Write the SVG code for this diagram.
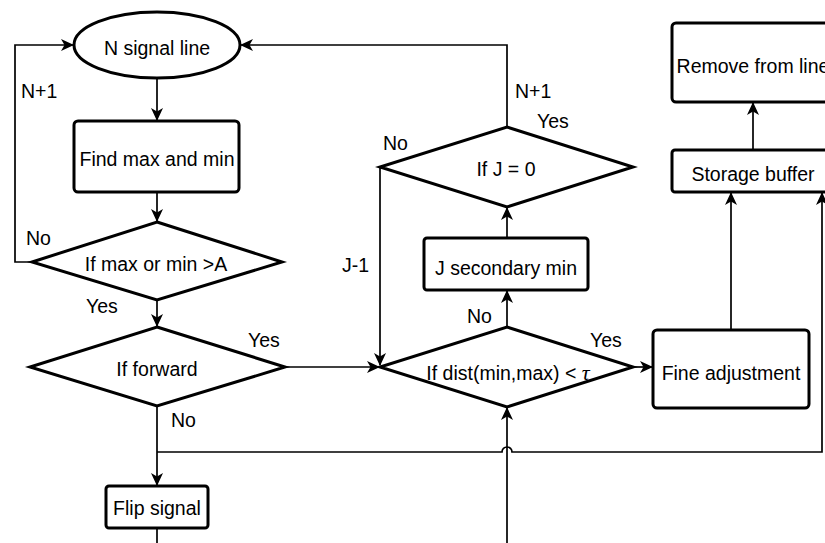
<svg xmlns="http://www.w3.org/2000/svg" width="825" height="543" viewBox="0 0 825 543">
<style>
.shape{fill:#fff;stroke:#000;stroke-width:3}
.conn{fill:none;stroke:#000;stroke-width:1.7}
text{font-family:"Liberation Sans",Arial,sans-serif;font-size:19.5px;fill:#000}
.c{text-anchor:middle}
</style>
<defs>
<marker id="arr" viewBox="0 0 13 12" refX="12" refY="6" markerWidth="13" markerHeight="12" markerUnits="userSpaceOnUse" orient="auto">
<path d="M0,0 L13,6 L0,12 L3.5,6 Z" fill="#000"/>
</marker>
</defs>
<rect width="825" height="543" fill="#fff"/>
<g id="connectors">
<path class="conn" d="M157,78 V120" marker-end="url(#arr)"/>
<path class="conn" d="M157,192 V221" marker-end="url(#arr)"/>
<path class="conn" d="M32,262 H15 V45 H73" marker-end="url(#arr)"/>
<path class="conn" d="M157,300 V326" marker-end="url(#arr)"/>
<path class="conn" d="M285,367 H379" marker-end="url(#arr)"/>
<path class="conn" d="M157,406 V485" marker-end="url(#arr)"/>
<path class="conn" d="M157,528 V543"/>
<path class="conn" d="M157,452 H502 A5,5 0 0 1 512,452 H822 V193" marker-end="url(#arr)"/>
<path class="conn" d="M507,543 V408" marker-end="url(#arr)"/>
<path class="conn" d="M507,327 V291" marker-end="url(#arr)"/>
<path class="conn" d="M507,238 V208" marker-end="url(#arr)"/>
<path class="conn" d="M380,167 V365" marker-end="url(#arr)"/>
<path class="conn" d="M507,127 V45 H241" marker-end="url(#arr)"/>
<path class="conn" d="M632,367 H652" marker-end="url(#arr)"/>
<path class="conn" d="M731,330 V193" marker-end="url(#arr)"/>
<path class="conn" d="M753,150 V103" marker-end="url(#arr)"/>
</g>
<g id="labels">
<text x="21" y="98">N+1</text>
<text x="26" y="245">No</text>
<text x="86" y="313">Yes</text>
<text x="248" y="347">Yes</text>
<text x="171" y="427">No</text>
<text x="383" y="150">No</text>
<text x="515" y="98">N+1</text>
<text x="537" y="128">Yes</text>
<text x="342" y="272">J-1</text>
<text x="467" y="323">No</text>
<text x="590" y="347">Yes</text>
</g>
<g id="n-signal-line">
<ellipse class="shape" cx="157" cy="45" rx="83" ry="33"/>
<text class="c" x="157" y="55">N signal line</text>
</g>
<g id="find-max-min">
<rect class="shape" x="74" y="121" width="165" height="71" rx="4"/>
<text class="c" x="157" y="166">Find max and min</text>
</g>
<g id="if-max-min">
<polygon class="shape" points="157,222 282,262 157,300 32,262"/>
<text class="c" x="156" y="271">If max or min &gt;A</text>
</g>
<g id="if-forward">
<polygon class="shape" points="157,327 285,367 157,406 30,367"/>
<text class="c" x="157" y="376">If forward</text>
</g>
<g id="flip-signal">
<rect class="shape" x="106" y="486" width="102" height="42" rx="3"/>
<text class="c" x="157" y="515">Flip signal</text>
</g>
<g id="if-dist">
<polygon class="shape" points="507,327 633,367 507,407 380,367"/>
<text class="c" x="508" y="380">If dist(min,max) &lt; <tspan font-family="'Liberation Serif',serif" font-style="italic" font-size="22px">τ</tspan></text>
</g>
<g id="j-secondary-min">
<rect class="shape" x="424" y="238" width="164" height="52" rx="3"/>
<text class="c" x="506" y="275">J secondary min</text>
</g>
<g id="if-j-0">
<polygon class="shape" points="507,127 633,167 507,207 380,167"/>
<text class="c" x="506" y="176">If J = 0</text>
</g>
<g id="fine-adjustment">
<rect class="shape" x="653" y="330" width="156" height="78" rx="4"/>
<text class="c" x="731" y="380">Fine adjustment</text>
</g>
<g id="storage-buffer">
<rect class="shape" x="672" y="150" width="163" height="42" rx="3"/>
<text class="c" x="753" y="181">Storage buffer</text>
</g>
<g id="remove-from-line">
<rect class="shape" x="672" y="23" width="163" height="79" rx="4"/>
<text class="c" x="753" y="73">Remove from line</text>
</g>
</svg>
